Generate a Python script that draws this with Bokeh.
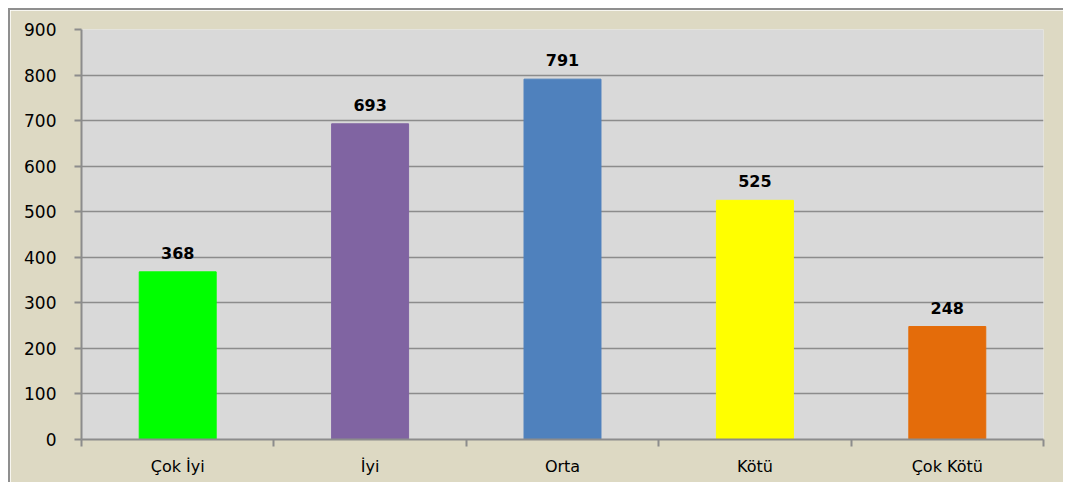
from bokeh.plotting import figure
from bokeh.models import ColumnDataSource, FixedTicker, Range1d, LabelSet
from bokeh.core.properties import value
from bokeh.embed import file_html
from bokeh.resources import INLINE

categories = ["Çok İyi", "İyi", "Orta", "Kötü", "Çok Kötü"]
values = [368, 693, 791, 525, 248]
colors = ["#00ff00", "#8064a2", "#4f81bd", "#ffff00", "#e46c0a"]
y_ticks = [0, 100, 200, 300, 400, 500, 600, 700, 800, 900]

xpos = [i + 0.5 for i in range(len(categories))]
src = ColumnDataSource(dict(x=xpos, top=values, color=colors,
                            label=[str(v) for v in values]))

FONT = "DejaVu Sans"

p = figure(width=1055, height=474, output_backend="svg", toolbar_location=None,
           x_range=Range1d(0, len(categories)), y_range=Range1d(0, 900),
           min_border_left=71, min_border_top=19, min_border_right=22, min_border_bottom=45,
           background_fill_color="#d9d9d9", border_fill_color="#ddd9c3",
           outline_line_color=None,
           styles={"margin-left": "8px", "margin-top": "8px",
                   "border-left": "2px solid #8f8f8f", "border-top": "2px solid #8f8f8f"})

p.vbar(x="x", top="top", width=0.4, color="color", source=src)

labels = LabelSet(x="x", y="top", text="label", source=src, text_align="center",
                  text_baseline="bottom", y_offset=13, text_font=value(FONT),
                  text_font_size=value("16px"), text_font_style="bold", text_color="#000000")
p.add_layout(labels)

p.xaxis.ticker = FixedTicker(ticks=xpos, minor_ticks=list(range(len(categories) + 1)))
p.xaxis.major_label_overrides = {x: c for x, c in zip(xpos, categories)}
p.xaxis.major_tick_line_color = None
p.xaxis.minor_tick_in = 0
p.xaxis.minor_tick_out = 7
p.xaxis.minor_tick_line_color = "#8c8c8c"
p.xaxis.minor_tick_line_width = 2
p.xaxis.axis_line_color = "#8c8c8c"
p.xaxis.axis_line_width = 2
p.xaxis.major_label_standoff = 10
p.xaxis.major_label_text_font = FONT
p.xaxis.major_label_text_font_size = "16px"
p.xaxis.major_label_text_color = "#000000"

p.yaxis.ticker = FixedTicker(ticks=y_ticks)
p.yaxis.minor_tick_line_color = None
p.yaxis.major_tick_in = 0
p.yaxis.major_tick_out = 7
p.yaxis.major_tick_line_color = "#8c8c8c"
p.yaxis.major_tick_line_width = 2
p.yaxis.axis_line_color = "#8c8c8c"
p.yaxis.axis_line_width = 2
p.yaxis.major_label_standoff = 18
p.yaxis.major_label_text_font = FONT
p.yaxis.major_label_text_font_size = "17px"
p.yaxis.major_label_text_color = "#000000"

p.xgrid.grid_line_color = None
p.ygrid.grid_line_color = "#8c8c8c"
p.ygrid.grid_line_width = 1.5

open("out.html", "w").write(file_html(p, INLINE))
